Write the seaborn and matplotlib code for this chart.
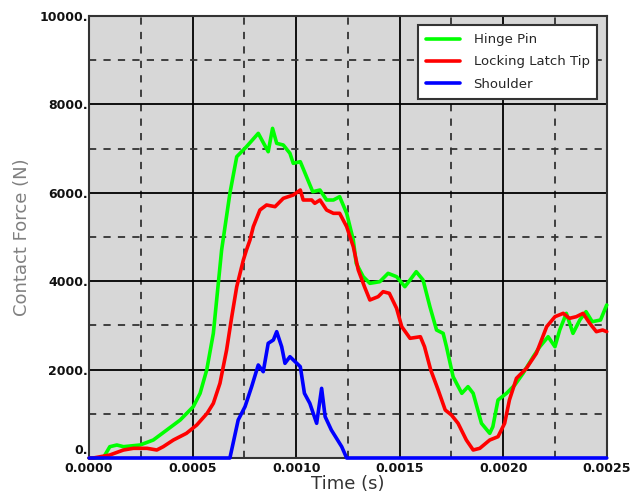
import numpy as np
import pandas as pd
import seaborn as sns
from matplotlib import pyplot as plt
from matplotlib.ticker import FuncFormatter, MultipleLocator
from matplotlib.transforms import offset_copy

sns.set_style("white")
plt.rcParams["font.family"] = ["DejaVu Sans"]

# Hinge Pin
hinge_t = [0.0, 0.000068, 0.0001, 0.000134, 0.000166, 0.000246, 0.00031, 0.000375,
           0.00044, 0.000503, 0.000536, 0.000568, 0.0006, 0.000624, 0.00064, 0.00068,
           0.000713, 0.00076, 0.000817, 0.000865, 0.000886, 0.000906, 0.000938, 0.00097,
           0.000986, 0.00102, 0.00105, 0.00108, 0.001115, 0.001147, 0.00118, 0.00121,
           0.001244, 0.001276, 0.00129, 0.001324, 0.001356, 0.001404, 0.001444, 0.001485,
           0.001525, 0.00155, 0.00158, 0.001613, 0.001646, 0.001678, 0.00171, 0.001726,
           0.001758, 0.0018, 0.00183, 0.001855, 0.001895, 0.001935, 0.00195, 0.001975,
           0.002016, 0.002056, 0.002096, 0.002145, 0.002177, 0.002217, 0.00225, 0.002273,
           0.002305, 0.002337, 0.00237, 0.0024, 0.00243, 0.00247, 0.0025]
hinge_f = [0, 0, 256, 294, 256, 294, 407, 633,
           860, 1161, 1463, 1991, 2820, 3952, 4706, 5988,
           6817, 7043, 7345, 6930, 7458, 7119, 7081, 6893,
           6667, 6704, 6364, 6025, 6063, 5837, 5837, 5912,
           5536, 4932, 4405, 4102, 3952, 3989, 4178, 4102,
           3876, 4027, 4215, 4027, 3424, 2896, 2820, 2518,
           1840, 1463, 1614, 1463, 785, 558, 708, 1312,
           1463, 1652, 1916, 2292, 2518, 2744, 2518, 2896,
           3273, 2820, 3122, 3311, 3084, 3122, 3462]

# Locking Latch Tip
latch_t = [0.0, 0.00002, 0.0001, 0.000166, 0.000214, 0.00028, 0.000327, 0.000358,
           0.000407, 0.00047, 0.00052, 0.00057, 0.0006, 0.000632, 0.000664, 0.000689,
           0.000713, 0.000745, 0.00076, 0.000777, 0.000793, 0.000825, 0.000857, 0.000898,
           0.000938, 0.000986, 0.00102, 0.001034, 0.001075, 0.00109, 0.001115, 0.001147,
           0.00118, 0.00121, 0.001244, 0.001276, 0.0013, 0.00133, 0.001356, 0.001396,
           0.00142, 0.00145, 0.001485, 0.00151, 0.00155, 0.0016, 0.00162, 0.00165,
           0.001686, 0.00172, 0.00175, 0.001782, 0.001822, 0.001855, 0.001887, 0.001935,
           0.001975, 0.002007, 0.00203, 0.002064, 0.002112, 0.00216, 0.00221, 0.00225,
           0.00229, 0.00232, 0.002353, 0.002386, 0.002418, 0.00245, 0.00248, 0.0025]
latch_f = [0, 0, 68, 181, 219, 219, 181, 256,
           407, 558, 747, 1011, 1237, 1690, 2443, 3197,
           3876, 4480, 4706, 4932, 5233, 5611, 5724, 5686,
           5875, 5950, 6063, 5837, 5837, 5762, 5837, 5611,
           5536, 5536, 5233, 4781, 4253, 3876, 3575, 3650,
           3763, 3726, 3387, 2971, 2708, 2744, 2518, 1991,
           1538, 1086, 973, 785, 407, 181, 219, 407,
           482, 785, 1312, 1803, 2029, 2367, 2971, 3197,
           3273, 3160, 3197, 3273, 3047, 2858, 2896, 2858]

# Shoulder
shoulder_t = [0.0, 0.00068, 0.00072, 0.000753, 0.000785, 0.000817, 0.000841, 0.000865,
              0.00089, 0.000906, 0.00093, 0.000946, 0.00097, 0.00102, 0.00104, 0.001066,
              0.001099, 0.001123, 0.00114, 0.00117, 0.0012, 0.00122, 0.001244, 0.0025]
shoulder_f = [0, 0, 860, 1161, 1614, 2104, 1953, 2595,
              2670, 2858, 2518, 2142, 2292, 2066, 1463, 1237,
              785, 1576, 935, 633, 407, 256, 0, 0]

series_names = ["Hinge Pin", "Locking Latch Tip", "Shoulder"]
series_colors = ["#00ff00", "#ff0000", "#0000ff"]

df = pd.concat([
    pd.DataFrame({"t": hinge_t, "f": hinge_f, "s": series_names[0]}),
    pd.DataFrame({"t": latch_t, "f": latch_f, "s": series_names[1]}),
    pd.DataFrame({"t": shoulder_t, "f": shoulder_f, "s": series_names[2]}),
])

fig = plt.figure(figsize=(6.32, 5), dpi=100)
ax = fig.add_axes([0.141, 0.084, 0.819, 0.884])
ax.set_facecolor("#d7d7d7")

sns.lineplot(data=df, x="t", y="f", hue="s", palette=series_colors, sort=False,
             estimator=None, linewidth=2.6, ax=ax, clip_on=False, zorder=5)

ax.set_xlim(0, 0.0025)
ax.set_ylim(0, 10000)
ax.xaxis.set_major_locator(MultipleLocator(0.0005))
ax.xaxis.set_minor_locator(MultipleLocator(0.00025))
ax.yaxis.set_major_locator(MultipleLocator(2000))
ax.yaxis.set_minor_locator(MultipleLocator(1000))
ax.xaxis.set_major_formatter(FuncFormatter(lambda v, _: f"{v:.4f}"))
# the zero label is drawn separately, nudged up so it clears "0.0000"
ax.yaxis.set_major_formatter(FuncFormatter(lambda v, _: "" if v == 0 else f"{v:.0f}."))
ax.grid(which="major", color="black", linewidth=1.3, linestyle="-")
ax.grid(which="minor", color="#333333", linewidth=1.3, linestyle=(0, (4, 4)))
ax.tick_params(which="both", length=0, labelsize=9, labelcolor="#111111")
ax.tick_params(axis="y", pad=1)
ax.tick_params(axis="x", pad=3)
for lab in ax.get_xticklabels() + ax.get_yticklabels():
    lab.set_fontweight("bold")
zero_tr = offset_copy(ax.get_yaxis_transform(), fig=fig, x=-1, y=1, units="points")
ax.text(0, 0, "0.", transform=zero_tr, ha="right", va="bottom", fontsize=9,
        fontweight="bold", color="#111111")
for sp in ax.spines.values():
    sp.set_color("#333333")
    sp.set_linewidth(1.5)

ax.set_xlabel("Time (s)", fontsize=13, color="#333333", labelpad=0)
ax.set_ylabel("Contact Force (N)", fontsize=13, color="#808080", labelpad=6)

leg = ax.legend(loc="upper right", fontsize=9.5, frameon=True, fancybox=False,
                borderaxespad=0.7, handlelength=2.6, handletextpad=1.0,
                labelspacing=0.7, borderpad=0.6)
leg.get_frame().set_edgecolor("#333333")
leg.get_frame().set_linewidth(1.5)
leg.get_frame().set_alpha(1)
leg.set_zorder(10)

fig.savefig("out.png", dpi=100)
